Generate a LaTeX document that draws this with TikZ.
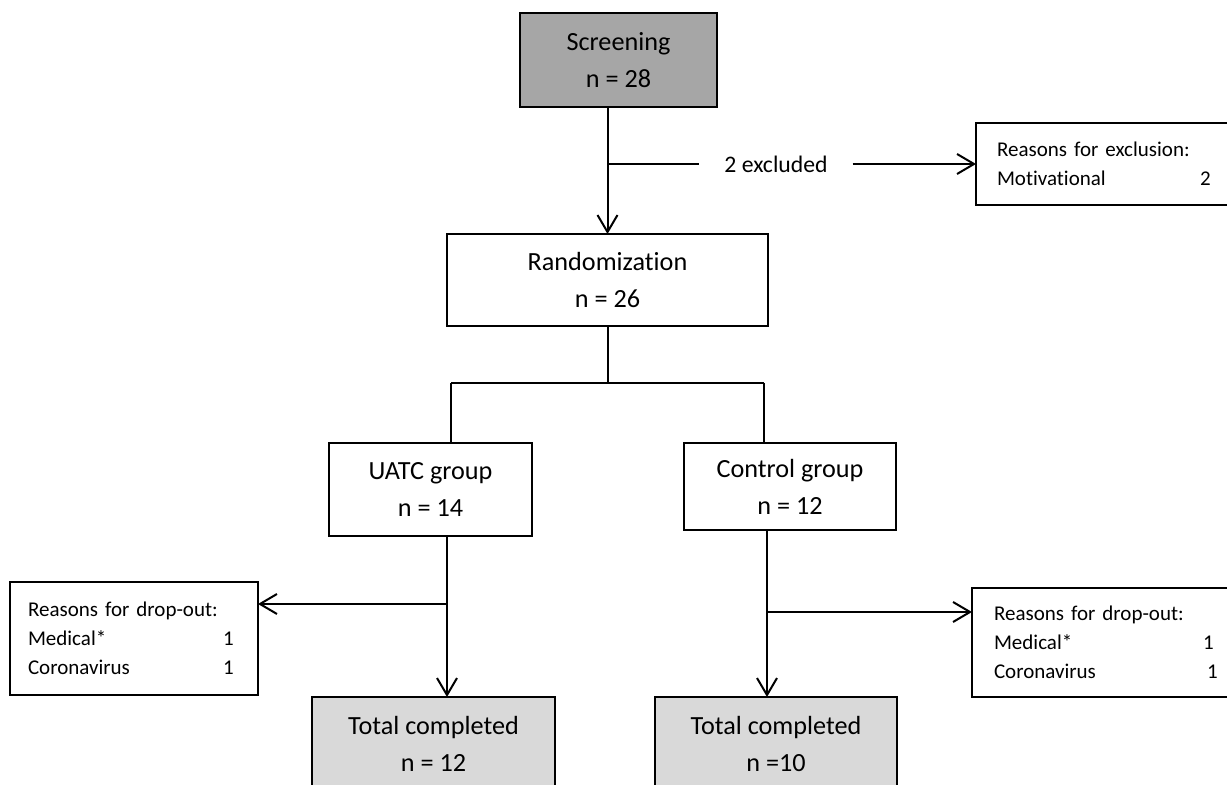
\documentclass[tikz,border=0pt]{standalone}
\usepackage{fontspec}
\setmainfont{Carlito}[Ligatures=NoCommon]
\usetikzlibrary{arrows.meta,calc}
\definecolor{ScreenGray}{RGB}{166,166,166}
\definecolor{DoneGray}{RGB}{217,217,217}

\begin{document}
\begin{tikzpicture}[x=.5pt,y=-.5pt,line width=1pt,
    box/.style={draw,rectangle,align=center,inner sep=0pt,outer sep=0pt,
      font=\fontsize{13.1pt}{18.5pt}\selectfont},
    note/.style={draw,rectangle,align=left,inner ysep=0pt,outer sep=0pt,
      font=\fontsize{10.5pt}{14.5pt}\selectfont},
    arr/.style={-{Straight Barb[length=8.5pt,width=10pt]}}]
  \useasboundingbox (0,0) rectangle (1227,785);
  \clip (0,0) rectangle (1227,785);

  % main boxes
  \node[box,fill=ScreenGray,minimum width=98.5pt,minimum height=47pt]
    (screen) at (618.5,60) {Screening\\n = 28};
  \node[box,minimum width=160.5pt,minimum height=46pt]
    (rand) at (607.5,280) {Randomization\\n = 26};
  \node[box,minimum width=101.5pt,minimum height=46.5pt]
    (uatc) at (430.5,489.5) {UATC group\\n = 14};
  \node[box,minimum width=106pt,minimum height=43.5pt]
    (ctrl) at (790,486.5) {Control group\\n = 12};
  \node[box,fill=DoneGray,minimum width=121.5pt,minimum height=46.5pt]
    (doneA) at (433.5,743.5) {Total completed\\n = 12};
  \node[box,fill=DoneGray,minimum width=121pt,minimum height=46.5pt]
    (doneB) at (776,743.5) {Total completed\\n =10};

  % side notes
  \node[note,inner xsep=10.5pt,text width=111pt,minimum height=41pt]
    (excl) at (1108,164) {Reasons for exclusion:\\
      \makebox[101.5pt][l]{Motivational}2};
  \node[note,inner xsep=9pt,text width=106pt,minimum height=56.5pt]
    (dropA) at (134,638.5) {Reasons for drop-out:\\
      \makebox[97.5pt][l]{Medical*}1\\
      \makebox[97.5pt][l]{Coronavirus}1};
  \node[note,inner xsep=11pt,text width=112pt,minimum height=54.5pt]
    (dropB) at (1106,642.5) {Reasons for drop-out:\\
      \makebox[104.5pt][l]{Medical*}1\\
      \makebox[106.5pt][l]{Coronavirus}1};

  \node[font=\fontsize{11.85pt}{14pt}\selectfont,inner xsep=12pt,inner ysep=0pt]
    (exlbl) at (776,164) {2 excluded};

  % connectors
  \coordinate (splitA) at (451,383);
  \coordinate (splitB) at (764,383);
  \coordinate (stemA) at (447,604);
  \coordinate (stemB) at (767,612);

  \draw[arr] (rand.north |- screen.south) -- (rand.north);
  \draw (rand.north |- excl.west) -- (exlbl.west |- excl.west);
  \draw[arr] (exlbl.east |- excl.west) -- (excl.west);

  \draw (rand.south) -- (rand.south |- splitA);
  \draw (splitA) -- (splitB);
  \draw (splitA) -- (splitA |- uatc.north);
  \draw (splitB) -- (splitB |- ctrl.north);

  \draw[arr] (stemA |- uatc.south) -- (stemA |- doneA.north);
  \draw[arr] (stemA) -- (stemA -| dropA.east);
  \draw[arr] (stemB |- ctrl.south) -- (stemB |- doneB.north);
  \draw[arr] (stemB) -- (stemB -| dropB.west);
\end{tikzpicture}
\end{document}
